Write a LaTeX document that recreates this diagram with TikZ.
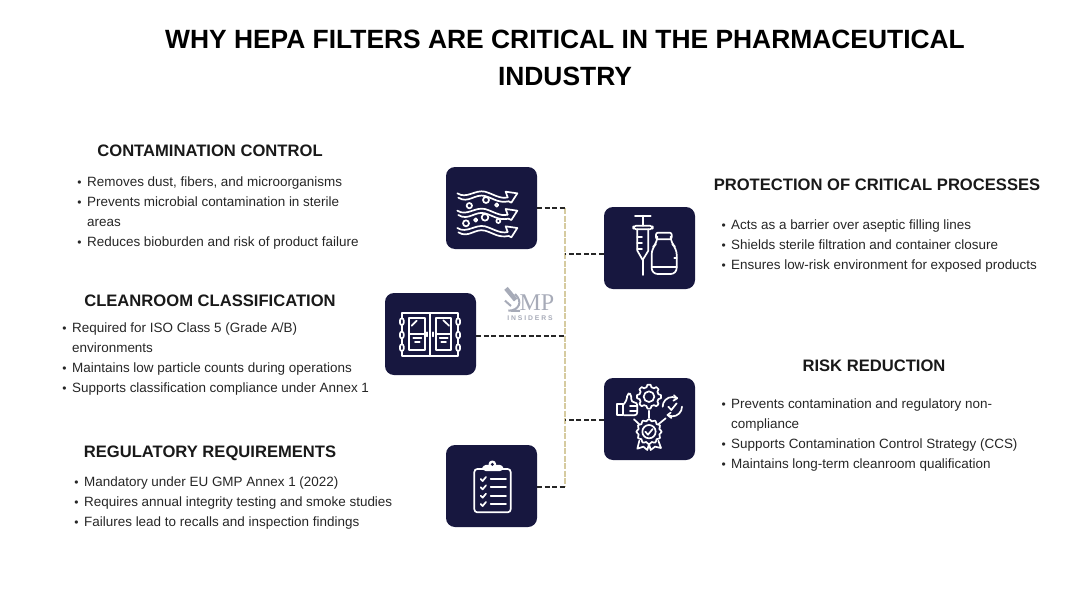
\documentclass[tikz,border=0pt]{standalone}
\usepackage{fontspec}
\setmainfont{Liberation Sans}
\newfontfamily\logofont{Liberation Serif}
\usepackage{xcolor}
\usetikzlibrary{arrows, positioning, calc}
\definecolor{navy}{HTML}{17173F}
\definecolor{spinetan}{HTML}{D6CBA0}
\definecolor{logogray}{HTML}{A7ABB8}
\newcommand{\bul}{\llap{{\fontsize{12}{12}\selectfont\textbullet}\hspace{5.5pt}}}
\tikzset{
iconbox/.style={%
    rectangle,
    minimum width=91pt,
    minimum height=82pt,
    inner sep=0pt,
    rounded corners=9pt,
    fill=navy,
},
heading/.style={%
    font=\fontsize{16.6}{20}\selectfont\bfseries,
    text=black!90,
    inner sep=0pt,
    text depth=0pt,
},
titleline/.style={%
    font=\fontsize{26.4}{36}\selectfont\bfseries,
    text=black,
    inner sep=0pt,
    text depth=0pt,
},
bullets/.style={%
    font=\fontsize{13.45}{20}\selectfont,
    text=black!85,
    align=left,
    anchor=north west,
    inner sep=0pt,
},
link/.style={draw=black!85,line width=1.5pt,dash pattern=on 5pt off 2.5pt},
spine/.style={draw=spinetan,line width=1.5pt,dash pattern=on 6pt off 1.5pt},
iconline/.style={draw=white,line width=1.7pt,line cap=round,line join=round},
}

\begin{document}
\begin{tikzpicture}[x=1pt,y=-1pt]
\useasboundingbox (0,0) rectangle (1080,608);

% title
\node[titleline] (title1) at (565,39) {WHY HEPA FILTERS ARE CRITICAL IN THE PHARMACEUTICAL};
\node[titleline] (title2) at (565,76) {INDUSTRY};

% boxes
\node[iconbox] at (491.5,208) (filterbox) {};
\node[iconbox] at (649.5,248) (processbox) {};
\node[iconbox] at (430.5,334) (cleanbox) {};
\node[iconbox] at (649.5,419) (riskbox) {};
\node[iconbox] at (491.5,486) (rulebox) {};

% connectors
\coordinate (jtop) at (565,208);
\coordinate (jprocess) at (565,254);
\coordinate (jclean) at (565,336);
\coordinate (jrisk) at (565,420);
\coordinate (jbottom) at (565,487);
\draw[spine] (jtop) -- (jbottom);
\draw[link] (filterbox.east |- jtop) -- (jtop);
\draw[link] (processbox.west |- jprocess) -- (jprocess);
\draw[link] (cleanbox.east |- jclean) -- (jclean);
\draw[link] (riskbox.west |- jrisk) -- (jrisk);
\draw[link] (rulebox.east |- jbottom) -- (jbottom);

% headings and lists
\node[heading] (contamhead) at (210,151.2) {CONTAMINATION CONTROL};
\node[bullets] (contamlist) at (87,177) {\bul Removes dust, fibers, and microorganisms\\\bul Prevents microbial contamination in sterile\\areas\\\bul Reduces bioburden and risk of product failure};
\node[heading] (cleanhead) at (210,301.2) {CLEANROOM CLASSIFICATION};
\node[bullets] (cleanlist) at (72,323) {\bul Required for ISO Class 5 (Grade A/B)\\environments\\\bul Maintains low particle counts during operations\\\bul Supports classification compliance under Annex 1};
\node[heading] (rulehead) at (210,451.2) {REGULATORY REQUIREMENTS};
\node[bullets] (rulelist) at (84,477) {\bul Mandatory under EU GMP Annex 1 (2022)\\\bul Requires annual integrity testing and smoke studies\\\bul Failures lead to recalls and inspection findings};
\node[heading] (processhead) at (877,185.2) {PROTECTION OF CRITICAL PROCESSES};
\node[bullets] (processlist) at (731,220) {\bul Acts as a barrier over aseptic filling lines\\\bul Shields sterile filtration and container closure\\\bul Ensures low-risk environment for exposed products};
\node[heading] (riskhead) at (874,366.2) {RISK REDUCTION};
\node[bullets] (risklist) at (731,399) {\bul Prevents contamination and regulatory non-\\compliance\\\bul Supports Contamination Control Strategy (CCS)\\\bul Maintains long-term cleanroom qualification};

% logo
\node[inner sep=0pt,text=logogray,text depth=0pt,font=\fontsize{24}{24}\selectfont\logofont] (logomp) at (537,303) {MP};
\node[inner sep=0pt,text=logogray,font=\fontsize{6.8}{7}\selectfont\bfseries] (logotext) at (530,318.5) {I N S I D E R S};
\begin{scope}[shift={(495,280)},scale=1/3]
\draw[logogray,line width=4.5pt] (33,25) -- (62,60);
\draw[logogray,line width=2pt] (60,42) .. controls (85,65) and (72,92) .. (40,92) -- (75,93);
\draw[logogray,line width=2pt] (30,62) -- (48,78);
\end{scope}

% filter icon
\begin{scope}[shift={(440,160)},scale=1/3]
\foreach \y in {0,52,104} {
  \draw[iconline] (52,{100+\y}) .. controls (80,{118+\y}) and (105,{88+\y}) .. (135,{95+\y}) .. controls (160,{102+\y}) and (180,{118+\y}) .. (203,{112+\y});
  \draw[iconline] (55,{113+\y}) .. controls (85,{132+\y}) and (105,{100+\y}) .. (135,{108+\y}) .. controls (160,{115+\y}) and (175,{130+\y}) .. (206,{124+\y});
  \draw[iconline] (203,{112+\y}) -- (197,{95+\y}) -- (232,{100+\y}) -- (214,{128+\y}) -- (206,{124+\y});
}
\foreach \cx/\cy/\r in {88/137/8,138/120/9,170/135/5,78/190/9,107/180/5,135/172/10,175/183/6}
  \draw[iconline] (\cx,\cy) circle (\r);
\end{scope}

% syringe and vial icon
\begin{scope}[shift={(440,160)},scale=1/3]
\draw[iconline] (585,167) -- (632,167) (608,167) -- (608,197);
\draw[iconline,rounded corners=3pt] (580,197) rectangle (638,208);
\draw[iconline] (592,208) -- (592,272) -- (608,300) -- (625,272) -- (625,208);
\draw[iconline] (592,232) -- (606,232) (592,250) -- (606,250) (592,268) -- (606,268);
\draw[iconline] (608,300) -- (608,345);
\draw[iconline,rounded corners=2pt] (648,218) rectangle (695,238);
\draw[iconline,rounded corners=6pt] (652,238) -- (652,248) -- (635,265) -- (635,342) -- (710,342) -- (710,265) -- (692,248) -- (692,238);
\draw[iconline] (635,322) -- (710,322) (703,295) -- (710,295);
\end{scope}

% cleanroom doors icon
\begin{scope}[shift={(380,285)},scale=1/3]
\draw[iconline] (65,85) rectangle (235,213);
\draw[iconline] (150,85) -- (150,213);
\foreach \x in {88,167} {
  \draw[iconline] (\x,100) rectangle ({\x+46},195);
  \draw[iconline] (\x,148) -- ({\x+46},148);
  \draw[iconline] ({\x+12},160) -- ({\x+36},160) ({\x+17},172) -- ({\x+31},172);
}
\draw[iconline] (95,122) -- (110,107) (190,106) -- (207,122);
\foreach \x in {60,229}
  \foreach \y in {100,140,178}
    \draw[iconline,fill=navy,rounded corners=2pt] (\x,\y) rectangle ({\x+11},{\y+20});
\draw[iconline] (142,142) -- (142,154) (158,142) -- (158,154);
\end{scope}

% risk icon
\begin{scope}[shift={(440,370)},scale=1/3]
\draw[iconline] plot[samples at={0,7.5,...,352.5},variable=\a] ({627+(29+7*(cos(8*\a)>0))*cos(\a)},{80+(29+7*(cos(8*\a)>0))*sin(\a)}) -- cycle;
\draw[iconline] (627,80) circle (16);
\draw[iconline] (627,122) -- (627,143) (582,148) -- (598,163) (677,145) -- (655,163);
% thumb
\draw[iconline] (530,102) rectangle (548,136);
\draw[iconline,rounded corners=3pt] (548,106) -- (560,92) -- (562,70) -- (574,72) -- (574,97) -- (592,97) -- (592,136) -- (552,136);
\draw[iconline] (570,109) -- (592,109) (570,123) -- (592,123);
% circular check
\draw[iconline] (668,110) arc (180:300:29);
\draw[iconline] (726,110) arc (0:120:29);
\draw[iconline] (702,76) -- (711.5,85) -- (700,92);
\draw[iconline] (692,128) -- (682.5,135) -- (694,144);
\draw[iconline] (685,110) -- (694,120) -- (710,100);
% rosette
\draw[iconline] (598,212) -- (592,236) -- (610,230) -- (622,240) -- (627,222) -- (632,240) -- (645,230) -- (663,234) -- (655,212);
\draw[fill=navy,iconline] plot[smooth cycle,samples at={0,7.5,...,352.5},variable=\a] ({627+(35+3*cos(12*\a))*cos(\a)},{185+(35+3*cos(12*\a))*sin(\a)});
\draw[iconline] (627,185) circle (20);
\draw[iconline] (616,185) -- (624,194) -- (638,177);
\end{scope}

% clipboard icon
\begin{scope}[shift={(440,370)},scale=1/3]
\draw[iconline,rounded corners=3pt] (103,297) rectangle (212,427);
\draw[iconline,fill=white,rounded corners=3pt] (130,287) rectangle (187,301);
\draw[iconline,fill=white] (157,283) circle (9);
\fill[navy] (157,283) circle (5);
\foreach \y in {327,352,377,402} {
  \draw[iconline] (122,\y) -- (128,{\y+6}) -- (138,{\y-6});
  \draw[iconline] (152,\y) -- (198,\y);
}
\end{scope}
\end{tikzpicture}
\end{document}
